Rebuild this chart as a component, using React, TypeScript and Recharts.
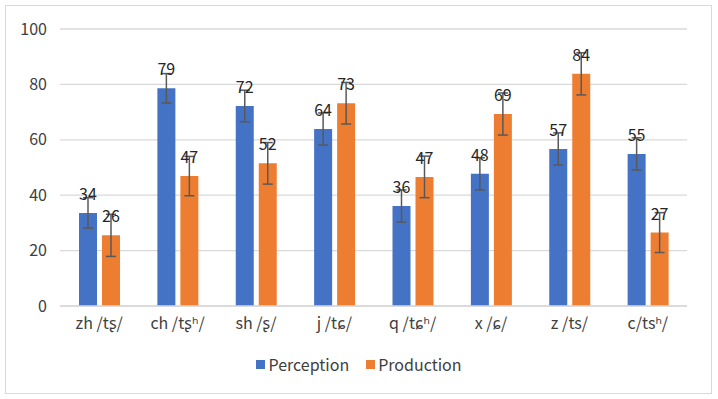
import React from "react";
import { BarChart, Bar, XAxis, YAxis, CartesianGrid, ErrorBar, LabelList } from "recharts";

const categories = ["zh /tʂ/", "ch /tʂʰ/", "sh /ʂ/", "j /tɕ/", "q /tɕʰ/", "x /ɕ/", "z /ts/", "c/tsʰ/"];
const perception = [33.6, 78.6, 72.2, 63.9, 36.1, 47.7, 56.7, 54.9];
const production = [25.5, 46.9, 51.5, 73.2, 46.6, 69.3, 83.8, 26.5];
const perceptionErr = [5.5, 5.3, 5.7, 5.8, 5.8, 5.8, 5.8, 5.8];
const productionErr = [7.6, 7.1, 7.5, 7.5, 7.5, 7.6, 7.6, 7.2];
const yTicks = [0, 20, 40, 60, 80, 100];
const seriesNames = ["Perception", "Production"];
const colors = ["#4472C4", "#ED7D31"];

const data = categories.map((c, i) => ({
  name: c,
  perception: perception[i],
  production: production[i],
  perceptionErr: perceptionErr[i],
  productionErr: productionErr[i],
}));

const FONT = '"Noto Sans CJK JP", "Noto Sans", "DejaVu Sans", sans-serif';

export default function App() {
  return (
    <div style={{ position: "absolute", left: 0, top: 0, width: 718, height: 399, background: "#fff", fontFamily: FONT }}>
      <div style={{ position: "absolute", left: 5, top: 5, width: 705, height: 387, border: "1px solid #D9D9D9" }} />
      <BarChart
        width={718}
        height={399}
        data={data}
        margin={{ top: 29, right: 31, left: 0, bottom: 63 }}
        barSize={18}
        barGap={5}
        style={{ position: "absolute", left: 0, top: 0 }}
      >
        <CartesianGrid vertical={false} stroke="#D9D9D9" strokeWidth={1.3} />
        <XAxis
          dataKey="name"
          axisLine={{ stroke: "#D9D9D9", strokeWidth: 1.3 }}
          tickLine={false}
          tickSize={0}
          tickMargin={12}
          height={30}
          interval={0}
          tick={{ fill: "#404040", fontSize: 16, fontFamily: FONT }}
        />
        <YAxis
          domain={[0, 100]}
          ticks={yTicks}
          width={60}
          axisLine={false}
          tickLine={false}
          tickSize={0}
          tickMargin={13}
          tick={{ fill: "#404040", fontSize: 16, fontFamily: FONT }}
        />
        <Bar dataKey="perception" fill={colors[0]} isAnimationActive={false}>
          <ErrorBar dataKey="perceptionErr" width={5} stroke="#595959" strokeWidth={1.5} direction="y" />
          <LabelList
            dataKey="perception"
            position="top"
            offset={13}
            formatter={(v: number) => Math.round(v)}
            style={{ fill: "#262626", fontSize: 16, fontFamily: FONT }}
          />
        </Bar>
        <Bar dataKey="production" fill={colors[1]} isAnimationActive={false}>
          <ErrorBar dataKey="productionErr" width={5} stroke="#595959" strokeWidth={1.5} direction="y" />
          <LabelList
            dataKey="production"
            position="top"
            offset={13}
            formatter={(v: number) => Math.round(v)}
            style={{ fill: "#262626", fontSize: 16, fontFamily: FONT }}
          />
        </Bar>
      </BarChart>
      <div
        style={{
          position: "absolute",
          left: 0,
          top: 352,
          width: 718,
          display: "flex",
          justifyContent: "center",
          alignItems: "center",
          fontSize: 16,
          color: "#404040",
          fontFamily: FONT,
        }}
      >
        {seriesNames.map((n, i) => (
          <div key={n} style={{ display: "flex", alignItems: "center", marginLeft: i === 0 ? 0 : 17 }}>
            <span style={{ display: "inline-block", width: 9, height: 9, background: colors[i], marginRight: 3 }} />
            <span>{n}</span>
          </div>
        ))}
      </div>
    </div>
  );
}
